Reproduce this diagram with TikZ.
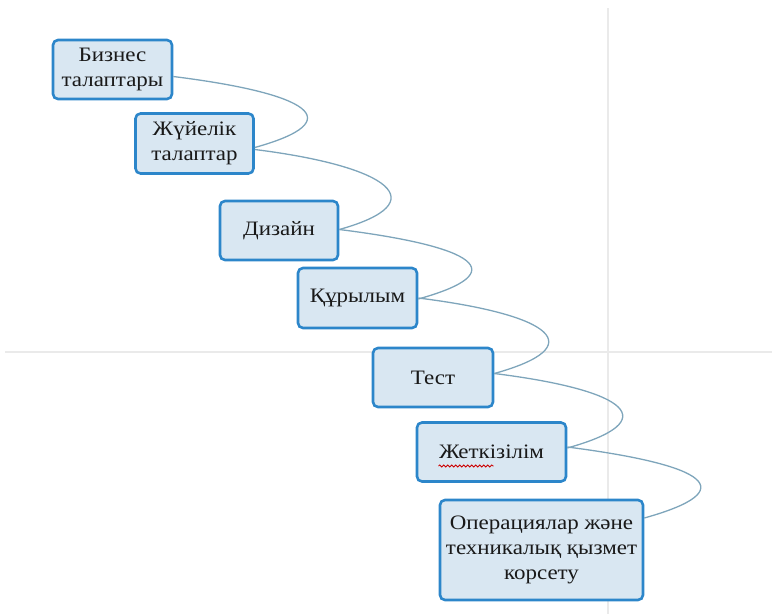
\documentclass[tikz,border=0pt]{standalone}
\usepackage{fontspec}
\setmainfont[FakeStretch=1.12]{Liberation Serif}
\usetikzlibrary{decorations.pathmorphing}
\definecolor{boxfill}{HTML}{D9E7F2}
\definecolor{boxdraw}{HTML}{2C86CA}
\definecolor{linkcol}{HTML}{7EA5BB}
\definecolor{guide}{HTML}{EAEAEA}
\tikzset{
  stepbox/.style={draw=boxdraw, fill=boxfill, line width=2.6pt, rounded corners=5pt,
    align=center, inner sep=2pt, text=black!90,
    font=\fontsize{20.5}{25}\selectfont},
  link/.style={draw=linkcol, line width=1.3pt},
}
\begin{document}
\begin{tikzpicture}[x=1pt,y=-1pt]
\useasboundingbox (0,0) rectangle (772,614);
% faint background guide lines
\draw[guide, line width=1.2pt] (608,8) -- (608,614);
\draw[guide, line width=1.2pt] (5,352) -- (772,352);
% boxes
\node[stepbox, minimum width=119pt, minimum height=59pt] (b1) at (112.5,69.5) {Бизнес\\талаптары};
\node[stepbox, minimum width=118pt, minimum height=60pt] (b2) at (194.5,143.5) {Жүйелік\\талаптар};
\node[stepbox, minimum width=118pt, minimum height=59pt] (b3) at (279,230.5) {Дизайн};
\node[stepbox, minimum width=119pt, minimum height=60pt] (b4) at (357.5,298) {Құрылым};
\node[stepbox, minimum width=120pt, minimum height=59pt] (b5) at (433,377.5) {Тест};
\node[stepbox, minimum width=149pt, minimum height=59pt] (b6) at (491.5,452) {Жеткізілім};
\node[stepbox, minimum width=203pt, minimum height=100pt] (b7) at (541.5,550) {Операциялар және\\техникалық қызмет\\корсету};
% spell-check underline
\draw[red!80!black, line width=0.8pt, decorate, decoration={snake, amplitude=1pt, segment length=4pt}] ([xshift=-53pt,yshift=-14pt]b6.center) -- ([xshift=2pt,yshift=-14pt]b6.center);
% connectors
\draw[link] ([yshift=-7pt]b1.east) .. controls +(136,17) and +(97,-27) .. ([yshift=-4pt]b2.east);
\draw[link] ([yshift=-6pt]b2.east) .. controls +(136,17) and +(97,-27) .. ([yshift=1pt]b3.east);
\draw[link] ([yshift=1pt]b3.east) .. controls +(136,17) and +(97,-27) .. ([yshift=-1pt]b4.east);
\draw[link] (b4.east) .. controls +(136,17) and +(97,-27) .. ([yshift=4pt]b5.east);
\draw[link] ([yshift=4pt]b5.east) .. controls +(136,17) and +(97,-27) .. ([yshift=4pt]b6.east);
\draw[link] ([yshift=5pt]b6.east) .. controls +(140,18) and +(100,-28) .. ([yshift=32pt]b7.east);
\end{tikzpicture}
\end{document}
